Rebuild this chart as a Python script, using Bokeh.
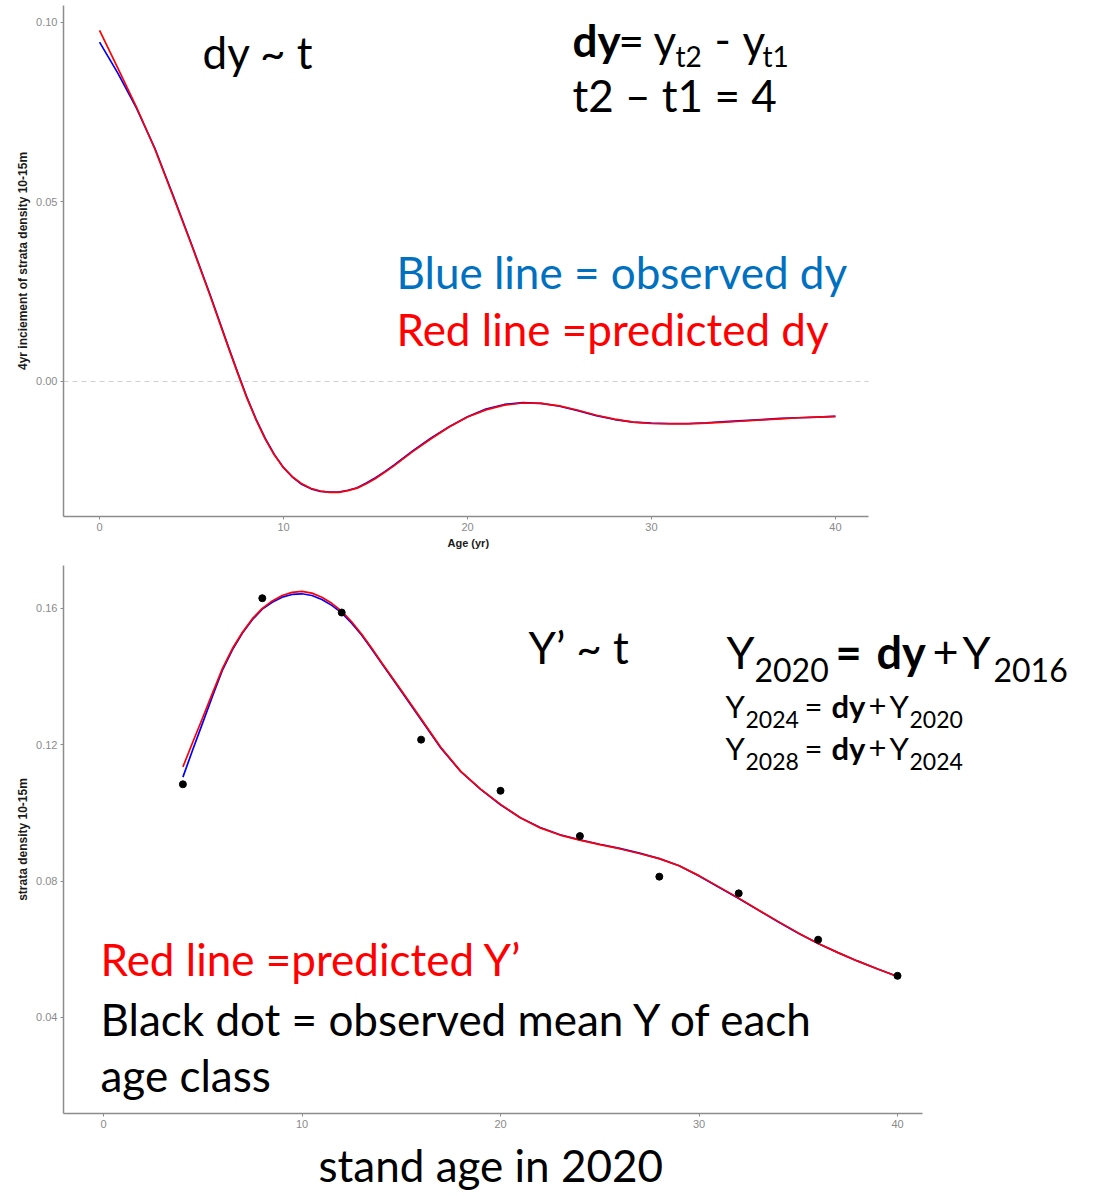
from bokeh.plotting import figure
from bokeh.layouts import column
from bokeh.models import Label, FixedTicker, Range1d, Title
from bokeh.embed import file_html
from bokeh.resources import INLINE

# ---------------- data ----------------
# 4-year increment of strata density (10-15 m) against stand age
age = [0, 1, 2, 3, 4, 5, 6, 7, 7.5, 8, 8.5, 9, 9.5, 10, 10.5, 11, 11.5, 12, 12.5, 13, 13.5,
       14, 14.5, 15, 15.5, 16, 17, 18, 19, 20, 21, 22, 23, 24, 25, 26, 27, 28, 29, 30, 31, 32,
       33, 34, 35, 36, 37, 38, 39, 40]
dy_observed = [0.0945, 0.0858, 0.0762, 0.0650, 0.0518, 0.0382, 0.0243, 0.0097, 0.0026, -0.0043,
               -0.0104, -0.0158, -0.0203, -0.0240, -0.0267, -0.0287, -0.0299, -0.0306, -0.0308,
               -0.0308, -0.0303, -0.0296, -0.0283, -0.0268, -0.0251, -0.0233, -0.0194, -0.0158,
               -0.0126, -0.0098, -0.0077, -0.0064, -0.0059, -0.0061, -0.0069, -0.0081, -0.0095,
               -0.0106, -0.0113, -0.0116, -0.0117, -0.0117, -0.0115, -0.0112, -0.0109, -0.0106,
               -0.0103, -0.0101, -0.0099, -0.0097]
dy_predicted = [0.0978, 0.0872, 0.0765, 0.0648, 0.0515, 0.0380, 0.0240, 0.0095, 0.0024, -0.0045,
                -0.0106, -0.0160, -0.0205, -0.0240, -0.0266, -0.0285, -0.0298, -0.0305, -0.0309,
                -0.0309, -0.0304, -0.0297, -0.0285, -0.0270, -0.0253, -0.0235, -0.0196, -0.0160,
                -0.0127, -0.0099, -0.0079, -0.0066, -0.0060, -0.0061, -0.0068, -0.0080, -0.0094,
                -0.0105, -0.0113, -0.0117, -0.0118, -0.0118, -0.0116, -0.0113, -0.0110, -0.0107,
                -0.0104, -0.0101, -0.0099, -0.0097]

# strata density 10-15 m against stand age in 2020
stand_age = [4, 4.5, 5, 5.5, 6, 6.5, 7, 7.5, 8, 8.5, 9, 9.5, 10, 10.5, 11, 11.5, 12, 12.5, 13,
             13.5, 14, 15, 16, 17, 18, 19, 20, 21, 22, 23, 24, 25, 26, 27, 28, 29, 30, 31, 32,
             33, 34, 35, 36, 37, 38, 39, 40]
y_observed = [0.1105, 0.1186, 0.1265, 0.1344, 0.1420, 0.1479, 0.1528, 0.1567, 0.1598, 0.1618,
              0.1633, 0.1641, 0.1643, 0.1638, 0.1626, 0.1609, 0.1587, 0.1557, 0.1522, 0.1482,
              0.1440, 0.1357, 0.1273, 0.1190, 0.1121, 0.1069, 0.1024, 0.0986, 0.0957, 0.0936,
              0.0921, 0.0908, 0.0896, 0.0882, 0.0866, 0.0845, 0.0815, 0.0782, 0.0749, 0.0714,
              0.0680, 0.0647, 0.0617, 0.0590, 0.0565, 0.0542, 0.0520]
y_predicted = [0.1135, 0.1208, 0.1280, 0.1353, 0.1425, 0.1483, 0.1530, 0.1570, 0.1600, 0.1622,
               0.1638, 0.1647, 0.1650, 0.1645, 0.1633, 0.1615, 0.1592, 0.1561, 0.1525, 0.1485,
               0.1442, 0.1360, 0.1276, 0.1192, 0.1122, 0.1070, 0.1025, 0.0986, 0.0956, 0.0935,
               0.0920, 0.0907, 0.0895, 0.0881, 0.0866, 0.0845, 0.0816, 0.0783, 0.0750, 0.0715,
               0.0681, 0.0648, 0.0617, 0.0590, 0.0565, 0.0542, 0.0520]

# observed mean of each age class
class_age = [4, 8, 12, 16, 20, 24, 28, 32, 36, 40]
class_mean = [0.1084, 0.1630, 0.1588, 0.1215, 0.1065, 0.0932, 0.0813, 0.0764, 0.0628, 0.0522]

# axis ticks
age_ticks = [0, 10, 20, 30, 40]
age_tick_labels = ["0", "10", "20", "30", "40"]
dy_ticks = [0.0, 0.05, 0.10]
dy_tick_labels = ["0.00", "0.05", "0.10"]
dens_ticks = [0.04, 0.08, 0.12, 0.16]
dens_tick_labels = ["0.04", "0.08", "0.12", "0.16"]

# ---------------- layout ----------------
W = 1102
TOP_H, BOT_H = 557, 639
# plotting frames in page pixels (wide enough to hold the side notes)
TOP_FRAME = dict(left=63, right=1087, top=5, bottom=516)
BOT_FRAME = dict(left=63, right=1087, top=565, bottom=1113)
TOP_X, TOP_Y = (-1.96, 53.70), (-0.0376, 0.1047)
BOT_X, BOT_Y = (-2.015, 49.57), (0.0118, 0.1726)
TOP_AXIS_END = 41.8      # visible extent of the age axes
BOT_AXIS_END = 41.26

BLUE_TXT = "#0070C0"
RED_TXT = "#FF0000"
FONT = "Lato"
AXIS_GREY = "#8c8c8c"


def make_fig(h, frame, page_top, xr, yr):
    return figure(width=W, height=h, x_range=Range1d(*xr), y_range=Range1d(*yr),
                  output_backend="svg", toolbar_location=None,
                  min_border_left=frame["left"], min_border_right=W - frame["right"],
                  min_border_top=frame["top"] - page_top,
                  min_border_bottom=page_top + h - frame["bottom"],
                  background_fill_color="white", border_fill_color="white")


def style_axes(p, ticks_x, labels_x, ticks_y, labels_y, x_bounds):
    p.outline_line_color = None
    p.grid.grid_line_color = None
    for ax in (p.xaxis[0], p.yaxis[0]):
        ax.axis_line_color = AXIS_GREY
        ax.axis_line_width = 1.5
        ax.major_tick_line_color = AXIS_GREY
        ax.major_tick_out = 3
        ax.major_tick_in = 0
        ax.minor_tick_line_color = None
        ax.major_label_text_font = "Liberation Sans"
        ax.major_label_text_font_size = "11px"
        ax.major_label_text_color = "#8a8a8a"
        ax.major_label_standoff = 3
        ax.axis_label_text_font = "Liberation Sans"
        ax.axis_label_text_font_style = "bold"
        ax.axis_label_text_color = "#1a1a1a"
        ax.axis_label_standoff = 3
    p.xaxis.bounds = x_bounds
    p.xaxis.ticker = FixedTicker(ticks=ticks_x)
    p.xaxis.major_label_overrides = dict(zip(ticks_x, labels_x))
    p.yaxis.ticker = FixedTicker(ticks=ticks_y)
    p.yaxis.major_label_overrides = dict(zip(ticks_y, labels_y))


def pos(frame, xr, yr, px, py):
    """page pixel -> data coordinates of a figure"""
    x = xr[0] + (px - frame["left"]) / (frame["right"] - frame["left"]) * (xr[1] - xr[0])
    y = yr[1] - (py - frame["top"]) / (frame["bottom"] - frame["top"]) * (yr[1] - yr[0])
    return x, y


def make_text(frame, xr, yr, p):
    def text(px, py, s, size, color="#000000", bold=False):
        # py is the text baseline on the page
        x, y = pos(frame, xr, yr, px, py - 0.41 * size)
        p.add_layout(Label(x=x, y=y, text=s, text_font=FONT, text_font_size=f"{size}px",
                           text_color=color, text_font_style="bold" if bold else "normal",
                           text_align="left", text_baseline="alphabetic"))
    return text


# ---------------- top: dy ~ t ----------------
top = make_fig(TOP_H, TOP_FRAME, 0, TOP_X, TOP_Y)
style_axes(top, age_ticks, age_tick_labels, dy_ticks, dy_tick_labels, (TOP_X[0], TOP_AXIS_END))
top.yaxis.axis_label = "4yr inciement of strata density 10-15m"
top.yaxis.axis_label_text_font_size = "12px"
top.add_layout(Title(text="Age (yr)", align="left", offset=384, standoff=2,
                     text_font="Liberation Sans", text_font_size="11px",
                     text_font_style="bold", text_color="#1a1a1a"), "below")

# zero reference line across the age axis
top.segment(x0=[TOP_X[0]], x1=[TOP_AXIS_END], y0=[0], y1=[0],
            line_color="#cfcfcf", line_dash="5 4", line_width=1)
top.line(age, dy_observed, line_color="#0000FF", line_width=1.7)
top.line(age, dy_predicted, line_color="#FF0000", line_width=1.7)

t = make_text(TOP_FRAME, TOP_X, TOP_Y, top)
t(202, 70, "dy ~ t", 44)
t(572, 58, "dy", 44, bold=True)
t(618, 58, "=", 44)
t(653, 58, "y", 44)
t(675, 67, "t2", 28)
t(714, 58, "-", 44)
t(742, 58, "y", 44)
t(762, 67, "t1", 28)
t(572, 113, "t2 \u2013 t1 = 4", 44)
t(396, 290, "Blue line = observed dy", 44, BLUE_TXT)
t(396, 347, "Red line =predicted dy", 44, RED_TXT)

# ---------------- bottom: Y' ~ t ----------------
bot = make_fig(BOT_H, BOT_FRAME, TOP_H, BOT_X, BOT_Y)
style_axes(bot, age_ticks, age_tick_labels, dens_ticks, dens_tick_labels, (BOT_X[0], BOT_AXIS_END))
bot.yaxis.axis_label = "strata density 10-15m"
bot.yaxis.axis_label_text_font_size = "12px"
bot.add_layout(Title(text="stand age in 2020", align="left", offset=255, standoff=12,
                     text_font=FONT, text_font_size="44px", text_font_style="normal",
                     text_color="#000000"), "below")

bot.line(stand_age, y_observed, line_color="#0000FF", line_width=1.7)
bot.line(stand_age, y_predicted, line_color="#FF0000", line_width=1.7)
bot.scatter(class_age, class_mean, size=7, color="#000000")

b = make_text(BOT_FRAME, BOT_X, BOT_Y, bot)
b(528, 665, "Y\u2019 ~ t", 44)

# Y2020 = dy + Y2016
b(726, 670, "Y", 45)
b(754, 683, "2020", 32)
b(835, 670, "=", 45, bold=True)
b(876, 670, "dy", 45, bold=True)
b(932, 670, "+", 45)
b(962, 670, "Y", 45)
b(993, 683, "2016", 32)

# Y2024 / Y2028 rows
for base, yr_a, yr_b in ((718, "2024", "2020"), (760, "2028", "2024")):
    b(725, base, "Y", 31)
    b(745, base + 10, yr_a, 23)
    b(804, base, "=", 31)
    b(831, base, "dy", 31, bold=True)
    b(868, base, "+", 31)
    b(889, base, "Y", 31)
    b(909, base + 10, yr_b, 23)

b(100, 977, "Red line =predicted Y\u2019", 44, RED_TXT)
b(100, 1037, "Black dot = observed mean Y of each", 44)
b(100, 1093, "age class", 44)

layout = column(top, bot, spacing=0)
open("out.html", "w").write(file_html(layout, INLINE))
